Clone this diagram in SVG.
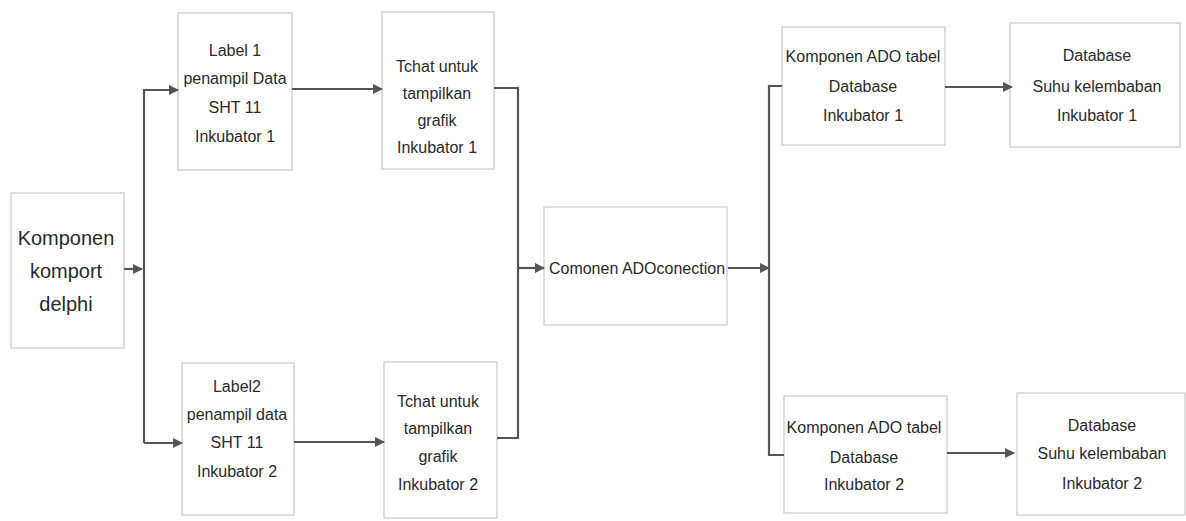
<svg xmlns="http://www.w3.org/2000/svg" width="1186" height="521" viewBox="0 0 1186 521">
<style>
.box{fill:none;stroke:#c8c8c8;stroke-width:1.2}
.t{font-family:"Liberation Sans",Arial,sans-serif;font-size:16px;fill:#2a2a2a;text-anchor:middle}
.big{font-size:20px}
.c{fill:none;stroke:#555;stroke-width:2.2}
</style>
<defs>
<marker id="ah" markerWidth="10" markerHeight="10" refX="9" refY="5" orient="auto" markerUnits="userSpaceOnUse">
<path d="M0,0 L10,5 L0,10 Z" fill="#555"/>
</marker>
</defs>
<rect width="1186" height="521" fill="#fff"/>
<g id="komport">
<rect class="box" x="11" y="193" width="113" height="155"/>
<text class="t big" x="66" y="245">Komponen</text>
<text class="t big" x="66" y="278">komport</text>
<text class="t big" x="66" y="311">delphi</text>
</g>
<g id="label1">
<rect class="box" x="178" y="13" width="114" height="157"/>
<text class="t" x="235" y="56">Label 1</text>
<text class="t" x="235" y="84">penampil Data</text>
<text class="t" x="235" y="113">SHT 11</text>
<text class="t" x="235" y="142">Inkubator 1</text>
</g>
<g id="tchat1">
<rect class="box" x="382" y="12" width="112" height="157"/>
<text class="t" x="437" y="72">Tchat untuk</text>
<text class="t" x="437" y="99">tampilkan</text>
<text class="t" x="437" y="126">grafik</text>
<text class="t" x="437" y="153">Inkubator 1</text>
</g>
<g id="label2">
<rect class="box" x="182" y="363" width="112" height="152"/>
<text class="t" x="237" y="392">Label2</text>
<text class="t" x="237" y="420">penampil data</text>
<text class="t" x="237" y="448">SHT 11</text>
<text class="t" x="237" y="477">Inkubator 2</text>
</g>
<g id="tchat2">
<rect class="box" x="384" y="362" width="113" height="156"/>
<text class="t" x="438" y="407">Tchat untuk</text>
<text class="t" x="438" y="434">tampilkan</text>
<text class="t" x="438" y="462">grafik</text>
<text class="t" x="438" y="490">Inkubator 2</text>
</g>
<g id="comonen">
<rect class="box" x="544" y="207" width="183" height="118"/>
<text class="t" x="637" y="274">Comonen ADOconection</text>
</g>
<g id="ado1">
<rect class="box" x="782" y="27" width="163" height="118"/>
<text class="t" x="863" y="62">Komponen ADO tabel</text>
<text class="t" x="863" y="92">Database</text>
<text class="t" x="863" y="121">Inkubator 1</text>
</g>
<g id="db1">
<rect class="box" x="1010" y="23" width="170" height="124"/>
<text class="t" x="1097" y="61">Database</text>
<text class="t" x="1097" y="92">Suhu kelembaban</text>
<text class="t" x="1097" y="121">Inkubator 1</text>
</g>
<g id="ado2">
<rect class="box" x="784" y="396" width="163" height="117"/>
<text class="t" x="864" y="433">Komponen ADO tabel</text>
<text class="t" x="864" y="463">Database</text>
<text class="t" x="864" y="490">Inkubator 2</text>
</g>
<g id="db2">
<rect class="box" x="1017" y="393" width="168" height="122"/>
<text class="t" x="1102" y="431">Database</text>
<text class="t" x="1102" y="459">Suhu kelembaban</text>
<text class="t" x="1102" y="489">Inkubator 2</text>
</g>
<g id="connectors">
<path class="c" d="M124,269 H142" marker-end="url(#ah)"/>
<path class="c" d="M144,443 V90 H178" marker-end="url(#ah)"/>
<path class="c" d="M144,443 H182" marker-end="url(#ah)"/>
<path class="c" d="M292,89 H382" marker-end="url(#ah)"/>
<path class="c" d="M294,442 H384" marker-end="url(#ah)"/>
<path class="c" d="M494,88 H518 V438 H497"/>
<path class="c" d="M518,268 H544" marker-end="url(#ah)"/>
<path class="c" d="M728,268 H769" marker-end="url(#ah)"/>
<path class="c" d="M782,86 H769 V455 H784"/>
<path class="c" d="M945,87 H1012" marker-end="url(#ah)"/>
<path class="c" d="M947,453 H1014" marker-end="url(#ah)"/>
</g>
</svg>
